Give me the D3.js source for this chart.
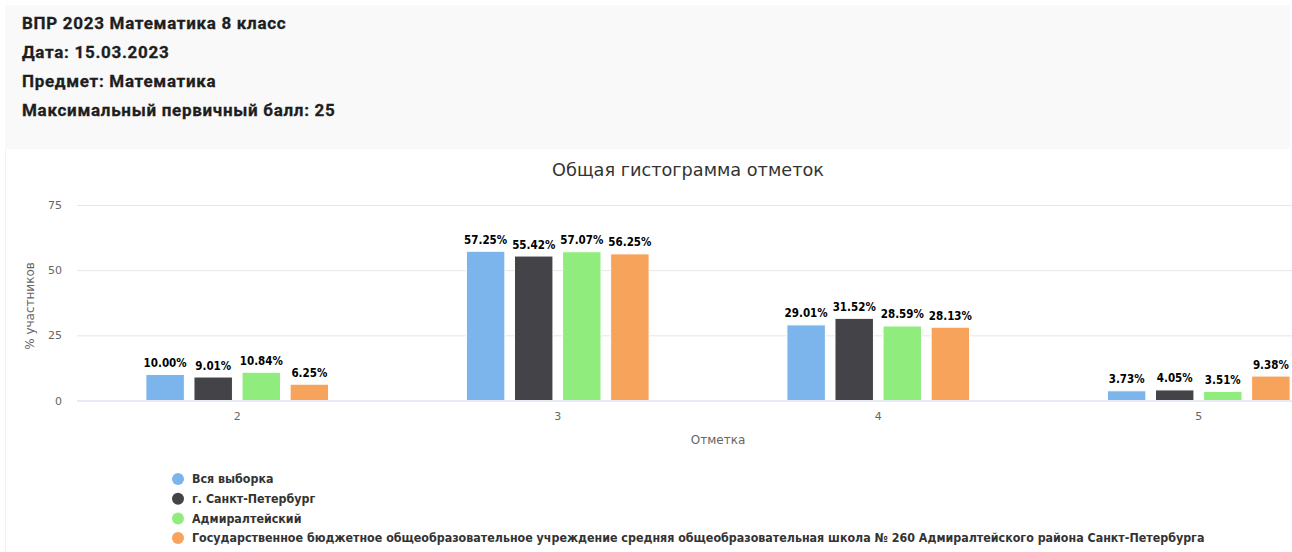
<!DOCTYPE html>
<html><head><meta charset="utf-8">
<script src="https://cdn.jsdelivr.net/npm/d3@7"></script>
<style>
html,body{margin:0;padding:0;background:#fff;width:1292px;height:552px;overflow:hidden;}
#head{position:absolute;left:5px;top:5px;width:1285px;height:144px;background:#f9f9f9;}
#head div{position:absolute;left:17px;font:bold 17px Roboto,sans-serif;letter-spacing:0.7px;-webkit-text-stroke:0.3px #1e1e1e;color:#1e1e1e;white-space:nowrap;}
svg{position:absolute;left:0;top:0;}
</style></head>
<body>
<div id="head"></div>
<svg id="chart" width="1292" height="552"></svg>
<script>
const headerLines = ["ВПР 2023 Математика 8 класс","Дата: 15.03.2023","Предмет: Математика","Максимальный первичный балл: 25"];
const chartTitle = "Общая гистограмма отметок";
const categories = ["2","3","4","5"];
const seriesNames = ["Вся выборка","г. Санкт-Петербург","Адмиралтейский","Государственное бюджетное общеобразовательное учреждение средняя общеобразовательная школа № 260 Адмиралтейского района Санкт-Петербурга"];
const seriesColors = ["#7cb5ec","#434348","#90ed7d","#f7a35c"];
const vsya = [10.00, 57.25, 29.01, 3.73];
const spb = [9.01, 55.42, 31.52, 4.05];
const admir = [10.84, 57.07, 28.59, 3.51];
const school = [6.25, 56.25, 28.13, 9.38];
const seriesValues = [vsya, spb, admir, school];
const yTicks = [0,25,50,75];

(function(){
const head = d3.select("#head");
headerLines.forEach((t,i)=>{
  head.append("div").style("top",(8+i*29)+"px").text(t);
});

const svg = d3.select("#chart");
const pl = 77, pr = 1359, pt = 205, pb = 400.5;
const y = d3.scaleLinear().domain([0,75]).range([pb, pt]);
const x0 = d3.scaleBand().domain(categories).range([pl,pr]).paddingInner(0.4).paddingOuter(0.2);
const x1 = d3.scaleBand().domain(d3.range(seriesNames.length)).range([0,x0.bandwidth()]).paddingInner(0.2).paddingOuter(0.1);

svg.append("line").attr("x1",5.5).attr("x2",5.5).attr("y1",150).attr("y2",552).attr("stroke","#f2f2f2");

svg.append("text").attr("x",688).attr("y",176).attr("text-anchor","middle")
  .style("font","17.7px 'DejaVu Sans',sans-serif").style("fill","#333").text(chartTitle);

const ga = svg.append("g").attr("transform",`translate(${pl},0)`)
  .call(d3.axisLeft(y).tickValues(yTicks).tickSize(-(pr-pl)).tickPadding(15));
ga.select(".domain").remove();
ga.selectAll(".tick line").attr("stroke",d=>d===0?"none":"#e6e6e6");
ga.selectAll(".tick text").style("font","11px 'DejaVu Sans',sans-serif").style("fill","#666");

const groups = svg.append("g").selectAll("g").data(categories).join("g")
  .attr("transform",d=>`translate(${x0(d)},0)`);
groups.selectAll("rect").data((c,ci)=>seriesValues.map((s,si)=>({si,v:s[ci]}))).join("rect")
  .attr("x",d=>x1(d.si)).attr("width",x1.bandwidth())
  .attr("y",d=>y(d.v)).attr("height",d=>y(0)-y(d.v))
  .attr("fill",d=>seriesColors[d.si]).attr("stroke","#fff").attr("stroke-width",1);
groups.selectAll("text").data((c,ci)=>seriesValues.map((s,si)=>({si,v:s[ci]}))).join("text")
  .attr("x",d=>x1(d.si)+x1.bandwidth()/2).attr("y",d=>y(d.v)-7.5)
  .attr("text-anchor","middle")
  .style("font","bold 11.5px 'DejaVu Sans Condensed','DejaVu Sans',sans-serif")
  .style("fill","#000").style("stroke","#fff").style("stroke-width","2px").style("paint-order","stroke")
  .text(d=>d.v.toFixed(2)+"%");

const xa = svg.append("g").attr("transform",`translate(0,${pb})`)
  .call(d3.axisBottom(x0).tickSize(0).tickPadding(12));
xa.select(".domain").attr("stroke","#ccd6eb").attr("d",`M${pl},0.5H${pr}`);
xa.selectAll(".tick text").style("font","11px 'DejaVu Sans',sans-serif").style("fill","#666");

svg.append("text").attr("x",(pl+pr)/2).attr("y",444).attr("text-anchor","middle")
  .style("font","12px 'DejaVu Sans',sans-serif").style("fill","#666").text("Отметка");
svg.append("text").attr("transform","translate(34,306) rotate(-90)").attr("text-anchor","middle")
  .style("font","12px 'DejaVu Sans',sans-serif").style("fill","#666").text("% участников");

const lg = svg.append("g").selectAll("g").data(seriesNames).join("g")
  .attr("transform",(d,i)=>`translate(178,${479+i*19.7})`);
lg.append("circle").attr("r",6).attr("fill",(d,i)=>seriesColors[i]);
lg.append("text").attr("x",14).attr("y",4.2)
  .style("font","bold 12.35px 'DejaVu Sans Condensed','DejaVu Sans',sans-serif").style("fill","#333")
  .text(d=>d);
})();
</script>
</body></html>
